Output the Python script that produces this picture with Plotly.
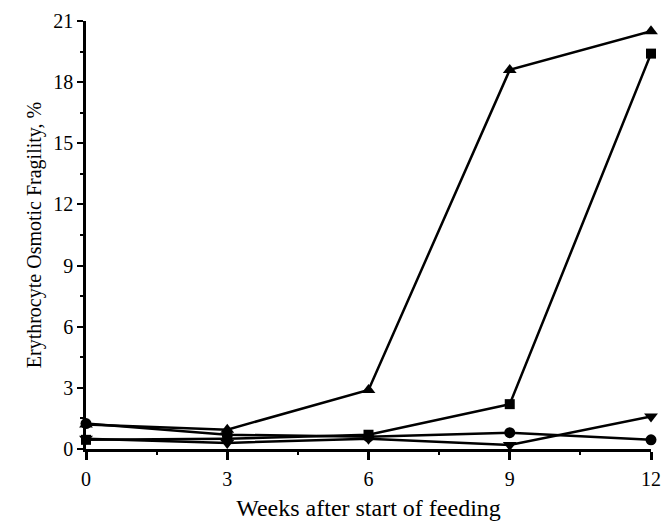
import plotly.graph_objects as go

weeks = [0, 3, 6, 9, 12]
series_triangle = [1.2, 0.95, 2.9, 18.6, 20.5]
series_square = [0.45, 0.5, 0.7, 2.2, 19.4]
series_circle = [1.25, 0.7, 0.6, 0.8, 0.45]
series_tri_down = [0.5, 0.3, 0.5, 0.2, 1.6]

x_ticks = [0, 3, 6, 9, 12]
y_ticks = [0, 3, 6, 9, 12, 15, 18, 21]

font_family = "Liberation Serif, Times New Roman, serif"

fig = go.Figure()
for vals, sym, size in [
    (series_tri_down, "triangle-down", 12),
    (series_circle, "circle", 11),
    (series_square, "square", 10),
    (series_triangle, "triangle-up", 12),
]:
    fig.add_trace(go.Scatter(
        x=weeks, y=vals, mode="lines+markers",
        line=dict(color="black", width=2.5),
        marker=dict(symbol=sym, size=size, color="black"),
        cliponaxis=False, showlegend=False,
    ))

fig.update_layout(
    width=662, height=513,
    margin=dict(l=78, r=19, t=13, b=72),
    paper_bgcolor="white", plot_bgcolor="white",
    font=dict(family=font_family, size=20, color="black"),
    xaxis=dict(
        range=[0, 12], tickvals=x_ticks, ticktext=[str(v) for v in x_ticks],
        showline=True, linecolor="black", linewidth=2.5,
        ticks="outside", ticklen=8, tickwidth=2.5, tickcolor="black",
        ticklabelstandoff=2, automargin=False,
        minor=dict(ticks="outside", ticklen=3, tickwidth=1.5, dtick=1.5, tickcolor="black"),
        showgrid=False, zeroline=False,
        title=dict(text="Weeks after start of feeding", font=dict(size=24), standoff=14),
        tickfont=dict(size=20),
    ),
    yaxis=dict(
        range=[0, 21], tickvals=y_ticks, ticktext=[str(v) for v in y_ticks],
        showline=True, linecolor="black", linewidth=2.5,
        ticks="outside", ticklen=6, tickwidth=2, tickcolor="black",
        automargin=False,
        minor=dict(ticks="outside", ticklen=3, tickwidth=1.5, dtick=1.5, tickcolor="black"),
        showgrid=False, zeroline=False,
        title=dict(text="Erythrocyte Osmotic Fragility, %", font=dict(size=20), standoff=7),
        tickfont=dict(size=20),
    ),
)

fig.write_html("out.html")
